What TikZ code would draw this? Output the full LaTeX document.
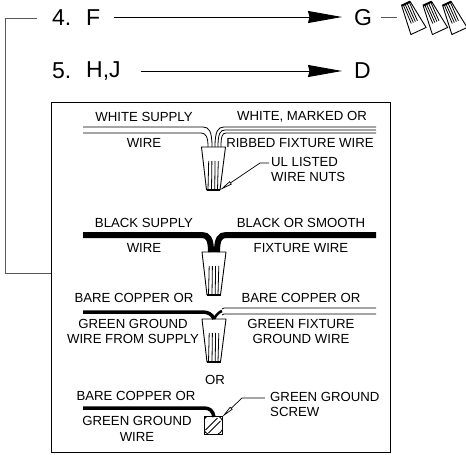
\documentclass[tikz,border=0pt]{standalone}
\usepackage{fontspec}
\setmainfont{Liberation Sans}
\usetikzlibrary{arrows.meta}
\tikzset{
  big/.style={font=\fontsize{23}{23}\selectfont,inner sep=0pt,text=black},
  lab/.style={font=\fontsize{13.2}{13.2}\selectfont,inner sep=0pt,text=black},
  flow/.style={line width=.9pt,-{Stealth[length=34pt,width=12pt,inset=1.5pt]}},
  frameline/.style={line width=1pt,draw=black!65},
  thin wire/.style={line width=.8pt},
  leader/.style={line width=.7pt,-{Stealth[length=13pt,width=3.5pt,open,inset=0pt]}},
  pics/wirenut/.style={code={
    \draw[line width=.9pt,line join=round] (-12,0) -- (12,0) -- (6.5,43) -- (-7,43) -- cycle;
    \draw[line width=2pt] (-7,43) -- (6.5,43);
    \foreach \a/\b in {-4.8/-5.5,-1.6/-2,1.6/1.2,4.8/4}{\draw[line width=.8pt] (\a,14) -- (\b,43);}
  }}
}
\begin{document}
\begin{tikzpicture}[x=1pt,y=-1pt]
\useasboundingbox (0,0) rectangle (466,455);
% panel
\node[draw,line width=1pt,minimum width=339pt,minimum height=350pt,inner sep=0pt,anchor=north west] (panel) at (51,102) {};
% top lines
\node[big,anchor=west] (n4) at (52,18) {4.};
\node[big,anchor=west] (nF) at (86,18) {F};
\node[big,anchor=west] (nG) at (354,18) {G};
\node[big,anchor=west] (n5) at (52,71) {5.};
\node[big,anchor=west] (nHJ) at (86,71) {H,J};
\node[big,anchor=west] (nD) at (354,71) {D};
\draw[flow] ([xshift=14pt]nF.east |- 0,17) -- ([xshift=-12pt]nG.west |- 0,17);
\draw[flow] ([xshift=20pt]nHJ.east |- 0,71) -- ([xshift=-12pt]nD.west |- 0,71);
\coordinate (c4) at (37,18);
\coordinate (cc) at (5,273);
\coordinate (cp) at (51,273);
\draw[frameline] (c4) -| (cc) -- (cp);
\coordinate (g1) at (381,17); \coordinate (g2) at (397,17);
\draw[frameline] (g1) -- (g2);
% small nuts
\foreach \x in {418.5,440,459.5}{
  \pic[rotate=-155,scale=.7] at (\x,31) {wirenut};
}
% white
\node[lab] (t1) at (144,117) {WHITE SUPPLY};
\node[lab] (t2) at (144,143) {WIRE};
\node[lab] (t3) at (302,117) {WHITE, MARKED OR};
\node[lab] (t4) at (300,143) {RIBBED FIXTURE WIRE};
\node[lab,anchor=west] (t5) at (271,162) {UL LISTED};
\node[lab,anchor=west] (t6) at (271,177) {WIRE NUTS};
\begin{scope}[thin wire]
\draw (83,127) -- (203,127) .. controls (209,127) and (212,131) .. (212,147);
\draw (83,133) -- (201,133) .. controls (206,133) and (208,137) .. (208,147);
\draw (376,127) -- (224,127) .. controls (218,127) and (215,131) .. (215,147);
\draw (376,130) -- (225,130) .. controls (220,130) and (218,134) .. (218,147);
\draw (376,133) -- (226,133) .. controls (222,133) and (221,137) .. (221,147);
\end{scope}
\pic at (213.5,147) {wirenut};
\coordinate (l1) at (269,163); \coordinate (l2) at (260,163); \coordinate (l3) at (220,190);
\draw[leader] (l1) -- (l2) -- (l3);
% black
\node[lab] (t7) at (144,223) {BLACK SUPPLY};
\node[lab] (t8) at (144,248) {WIRE};
\node[lab] (t9) at (301,223) {BLACK OR SMOOTH};
\node[lab] (t10) at (301,248) {FIXTURE WIRE};
\draw[line width=6pt] (83,235) -- (202,235) .. controls (208,235) and (211,239) .. (211,252);
\draw[line width=6pt] (376,235) -- (226,235) .. controls (220,235) and (217,239) .. (217,252);
\pic at (214,252) {wirenut};
% ground
\node[lab] (t11) at (134,298) {BARE COPPER OR};
\node[lab] (t12) at (301,298) {BARE COPPER OR};
\node[lab] (t13) at (133,324) {GREEN GROUND};
\node[lab] (t14) at (133,339) {WIRE FROM SUPPLY};
\node[lab] (t15) at (301,324) {GREEN FIXTURE};
\node[lab] (t16) at (301,339) {GROUND WIRE};
\draw[line width=3.5pt] (83,312) -- (202,312) .. controls (208,312) and (212,314) .. (214,319);
\draw[line width=2.5pt] (222,311) .. controls (219,312) and (216,315) .. (214,319);
\draw[thin wire] (376,308) -- (224,308) -- (222,309);
\draw[thin wire] (376,314) -- (224,314) -- (222,315);
\pic at (214,319) {wirenut};
\node[lab] (t17) at (215,380) {OR};
% screw
\node[lab] (t18) at (136,396) {BARE COPPER OR};
\node[lab] (t19) at (137,421) {GREEN GROUND};
\node[lab] (t20) at (137,437) {WIRE};
\node[lab,anchor=west] (t21) at (270,397) {GREEN GROUND};
\node[lab,anchor=west] (t22) at (270,412) {SCREW};
\draw[line width=3.5pt] (83,408) -- (204,408) .. controls (210,408) and (213,411) .. (214,417);
\draw[line width=.9pt] (204,416) rectangle (222,434);
\begin{scope}
\clip (204,416) rectangle (222,434);
\draw[line width=.8pt] (213,425) circle[radius=10.5];
\end{scope}
\draw[line width=.8pt] (205.5,430) -- (217.5,418);
\draw[line width=.8pt] (208.5,433) -- (220.5,421);
\coordinate (s1) at (265,398); \coordinate (s2) at (242,398); \coordinate (s3) at (222,417);
\draw[leader] (s1) -- (s2) -- (s3);
\end{tikzpicture}
\end{document}
